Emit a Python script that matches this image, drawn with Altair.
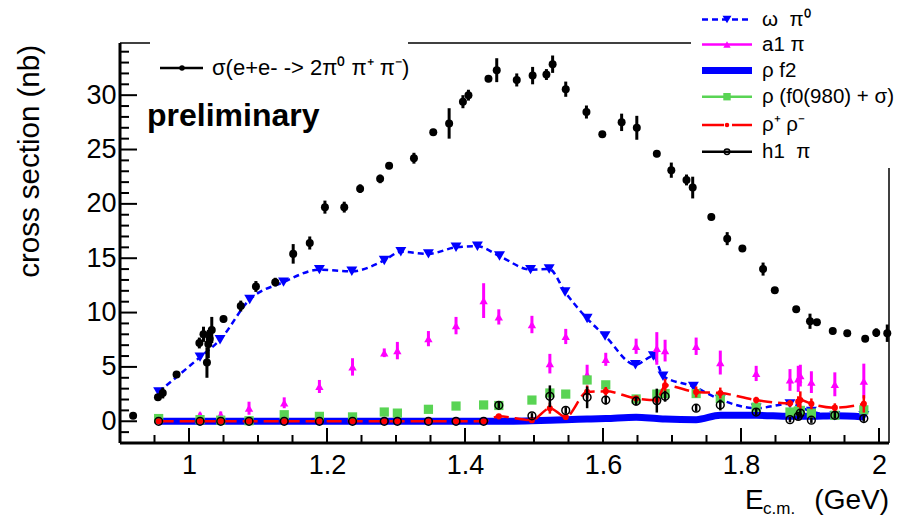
import altair as alt
import pandas as pd

FONT = "Liberation Sans"

# ---------------- data ----------------
# total cross section e+e- -> 2pi0 pi+ pi-
E_tot = [0.919, 0.955, 0.962, 0.982, 1.015, 1.021, 1.026, 1.028, 1.030, 1.033,
         1.050, 1.075, 1.097, 1.125, 1.151, 1.175, 1.197, 1.225, 1.248, 1.277,
         1.290, 1.326, 1.354, 1.377, 1.397, 1.405, 1.434, 1.446, 1.475, 1.498,
         1.518, 1.527, 1.546, 1.576, 1.599, 1.627, 1.649, 1.678, 1.699, 1.721,
         1.730, 1.757, 1.780, 1.802, 1.832, 1.849, 1.880, 1.900, 1.910, 1.933,
         1.954, 1.980, 1.996, 2.012]
xs_tot = [0.5, 2.2, 2.6, 4.3, 7.2, 8.0, 5.4, 7.1, 7.6, 8.4,
          9.4, 10.6, 12.4, 12.8, 15.4, 16.4, 19.7, 19.7, 21.4, 22.3,
          23.5, 24.2, 26.6, 27.4, 29.4, 30.0, 31.5, 32.3, 31.4, 31.8,
          31.9, 32.85, 30.55, 28.45, 26.4, 27.5, 27.0, 24.6, 23.1, 22.2,
          21.5, 18.8, 16.8, 15.9, 14.0, 12.05, 10.3, 9.2, 9.1, 8.3,
          8.1, 7.6, 8.15, 8.1]
err_tot = [0.2, 0.3, 0.5, 0.3, 0.5, 0.7, 1.4, 1.3, 0.6, 1.2,
           0.3, 0.5, 0.5, 0.4, 0.9, 0.6, 0.6, 0.5, 0.4, 0.4,
           0.3, 0.5, 0.3, 1.4, 0.6, 0.5, 0.3, 1.1, 0.6, 0.8,
           0.5, 0.8, 0.7, 0.6, 0.3, 0.8, 1.1, 0.3, 0.7, 0.5,
           1.0, 0.3, 0.6, 0.3, 0.6, 0.3, 0.3, 0.7, 0.3, 0.3,
           0.3, 0.3, 0.4, 0.8]

# omega pi0 component
E_omega = [0.956, 1.016, 1.045, 1.088, 1.137, 1.189, 1.236, 1.283, 1.307, 1.347,
           1.387, 1.418, 1.450, 1.495, 1.522, 1.545, 1.577, 1.603, 1.647, 1.673,
           1.687, 1.731, 1.770, 1.822, 1.871, 1.902, 1.936, 1.978]
xs_omega = [2.7, 5.9, 7.5, 11.2, 12.8, 13.95, 13.8, 14.8, 15.6, 15.4,
            16.0, 16.1, 15.2, 13.95, 14.0, 11.9, 9.45, 7.85, 5.2, 6.0,
            4.15, 3.2, 2.0, 1.2, 1.6, 0.9, 0.5, 0.5]

# energy points of the other components
E_comp = [0.956, 1.016, 1.046, 1.087, 1.138, 1.189, 1.237, 1.283, 1.302, 1.347,
          1.387, 1.427, 1.449, 1.497, 1.523, 1.546, 1.577, 1.604, 1.648, 1.678,
          1.690, 1.735, 1.770, 1.822, 1.871, 1.883, 1.886, 1.902, 1.936, 1.978]
xs_a1 = [0.1, 0.6, 0.6, 1.2, 1.7, 3.2, 5.0, 6.3, 6.5, 7.6,
         8.8, 11.1, 9.6, 8.9, 5.3, 7.8, 4.3, 5.7, 6.9, 6.7,
         6.5, 6.9, 5.4, 4.4, 3.8, 3.9, 4.2, 3.6, 3.4, 3.7]
err_a1 = [0.1, 0.2, 0.3, 0.6, 0.5, 0.6, 0.8, 0.4, 0.8, 0.7,
          0.8, 1.6, 0.7, 0.8, 0.9, 0.7, 0.9, 0.6, 0.7, 1.5,
          1.0, 0.8, 1.1, 0.7, 1.0, 1.2, 1.0, 1.0, 1.1, 1.6]
xs_rhof2 = [0, 0, 0, 0, 0, 0, 0, 0, 0, 0,
            0, 0, 0, 0.05, 0.1, 0.15, 0.2, 0.25, 0.38, 0.25,
            0.2, 0.15, 0.55, 0.55, 0.45, 0.45, 0.45, 0.45, 0.5, 0.4]
xs_rhof0 = [0.25, 0.15, 0.1, 0.05, 0.6, 0.45, 0.4, 0.85, 0.75, 1.1,
            1.4, 1.5, 1.45, 1.95, 2.6, 2.5, 3.8, 3.35, 2.05, 2.5,
            2.55, 2.55, 2.1, 1.3, 0.85, 0.95, 1.0, 0.75, 0.55, 1.05]
xs_rhorho = [0, 0, 0, 0, 0, 0, 0, 0, 0, 0,
             0, 0, 0.45, 0.1, 1.2, 0.4, 2.7, 2.75, 2.1, 1.95,
             3.3, 2.7, 2.6, 1.95, 1.65, 1.8, 1.95, 1.6, 1.25, 1.6]
err_rhorho = [0, 0, 0, 0, 0, 0, 0, 0, 0, 0,
              0, 0, 0, 0.1, 0.5, 0.1, 0.6, 0.4, 0.2, 0.2,
              0.6, 0.5, 0.5, 0.3, 0.3, 0.5, 0.8, 0.5, 0.4, 0.8]
xs_h1 = [0, 0, 0, 0, 0, 0, 0, 0, 0, 0,
         0, 0, 1.47, 0.5, 2.3, 1.0, 2.2, 1.95, 1.85, 1.9,
         2.3, 1.2, 1.5, 0.85, 0.15, 0.45, 0.75, 0.1, 0.55, 0.25]
err_h1 = [0, 0, 0, 0, 0, 0, 0, 0, 0, 0,
          0, 0, 0.3, 0.25, 1.0, 0.3, 1.0, 0.4, 0.4, 1.1,
          0.5, 0.3, 0.5, 0.3, 0.25, 0.3, 0.3, 0.25, 0.3, 0.3]

# axis ticks
x_major = [1.0, 1.2, 1.4, 1.6, 1.8, 2.0]
x_minor = [0.9, 0.95, 1.05, 1.1, 1.15, 1.25, 1.3, 1.35, 1.45, 1.5, 1.55,
           1.65, 1.7, 1.75, 1.85, 1.9, 1.95]
y_major = [0, 5, 10, 15, 20, 25, 30]
y_minor = [-1, 1, 2, 3, 4, 6, 7, 8, 9, 11, 12, 13, 14, 16, 17, 18, 19, 21, 22, 23, 24,
           26, 27, 28, 29, 31, 32, 33, 34]

# ---------------- tables ----------------
tot = pd.DataFrame({"E": E_tot, "s": xs_tot, "e": err_tot})
tot["lo"] = tot["s"] - tot["e"]
tot["hi"] = tot["s"] + tot["e"]
omega = pd.DataFrame({"E": E_omega, "s": xs_omega})
comp = pd.DataFrame({"E": E_comp, "a1": xs_a1, "ea1": err_a1, "f2": xs_rhof2,
                     "f0": xs_rhof0, "rr": xs_rhorho, "err": err_rhorho,
                     "h1": xs_h1, "eh1": err_h1})
comp["a1lo"] = comp["a1"] - comp["ea1"]
comp["a1hi"] = comp["a1"] + comp["ea1"]
comp["rrlo"] = comp["rr"] - comp["err"]
comp["rrhi"] = comp["rr"] + comp["err"]
comp["h1lo"] = comp["h1"] - comp["eh1"]
comp["h1hi"] = comp["h1"] + comp["eh1"]
rr_err = comp[comp["err"] > 0]
h1_err = comp[comp["eh1"] > 0]

one = pd.DataFrame({"k": [0]})

W, H = 769, 400
xsc = alt.Scale(domain=[0.9, 2.0145], nice=False, zero=False)
ysc = alt.Scale(domain=[-2, 34.8], nice=False, zero=False)
xaxis = alt.Axis(values=x_major, format="~g", domain=False, ticks=False, grid=False,
                 labelFont=FONT, labelFontSize=27, labelColor="black", labelPadding=9,
                 labelFlush=False, labelOverlap=False, title=None)
yaxis = alt.Axis(values=y_major, format="d", domain=False, ticks=False, grid=False,
                 labelFont=FONT, labelFontSize=27, labelColor="black", labelPadding=4,
                 labelFlush=False, labelOverlap=False, title=None)


def X(f):
    return alt.X(f"{f}:Q", scale=xsc, axis=xaxis)


def Y(f):
    return alt.Y(f"{f}:Q", scale=ysc, axis=yaxis)


BLUE = "#0000ff"
MAG = "#ff00ff"
GREEN = "#59d454"
RED = "#ff0000"

layers = []

# frame
layers.append(alt.Chart(one).mark_rule(color="black", strokeWidth=1.5).encode(
    x=alt.value(0), x2=alt.value(W), y=alt.value(0)))
layers.append(alt.Chart(one).mark_rule(color="black", strokeWidth=1.5).encode(
    x=alt.value(W), y=alt.value(0), y2=alt.value(H)))
layers.append(alt.Chart(one).mark_rule(color="black", strokeWidth=3).encode(
    x=alt.value(0), y=alt.value(0), y2=alt.value(H)))
layers.append(alt.Chart(one).mark_rule(color="black", strokeWidth=3).encode(
    x=alt.value(0), x2=alt.value(W), y=alt.value(H)))

# ticks (inside the frame)
layers.append(alt.Chart(pd.DataFrame({"v": y_minor})).mark_rule(color="black", strokeWidth=2).encode(
    y=Y("v"), x=alt.value(0), x2=alt.value(9)))
layers.append(alt.Chart(pd.DataFrame({"v": y_major})).mark_rule(color="black", strokeWidth=2).encode(
    y=Y("v"), x=alt.value(0), x2=alt.value(17)))
layers.append(alt.Chart(pd.DataFrame({"v": x_minor})).mark_rule(color="black", strokeWidth=2).encode(
    x=X("v"), y=alt.value(H), y2=alt.value(H - 8)))
layers.append(alt.Chart(pd.DataFrame({"v": x_major})).mark_rule(color="black", strokeWidth=2).encode(
    x=X("v"), y=alt.value(H), y2=alt.value(H - 15)))

# omega pi0
layers.append(alt.Chart(omega).mark_line(color=BLUE, strokeWidth=2.5, strokeDash=[6, 4],
                                         interpolate="monotone").encode(x=X("E"), y=Y("s")))
layers.append(alt.Chart(omega).mark_point(shape="triangle-down", filled=True, color=BLUE,
                                          size=120, opacity=1).encode(x=X("E"), y=Y("s")))
# a1 pi
layers.append(alt.Chart(comp).mark_rule(color=MAG, strokeWidth=3).encode(
    x=X("E"), y=Y("a1lo"), y2=alt.Y2("a1hi:Q")))
layers.append(alt.Chart(comp).mark_point(shape="triangle-up", filled=True, color=MAG,
                                         size=70, opacity=1).encode(x=X("E"), y=Y("a1")))
# rho f2
layers.append(alt.Chart(comp).mark_line(color=BLUE, strokeWidth=7, interpolate="monotone").encode(
    x=X("E"), y=Y("f2")))
# rho (f0 + sigma)
layers.append(alt.Chart(comp).mark_point(shape="square", filled=True, color=GREEN,
                                         size=85, opacity=1).encode(x=X("E"), y=Y("f0")))
# rho+ rho-
layers.append(alt.Chart(comp).mark_line(color=RED, strokeWidth=2.5, strokeDash=[15, 6],
                                        interpolate="monotone").encode(x=X("E"), y=Y("rr")))
layers.append(alt.Chart(rr_err).mark_rule(color=RED, strokeWidth=2.5).encode(
    x=X("E"), y=Y("rrlo"), y2=alt.Y2("rrhi:Q")))
layers.append(alt.Chart(comp).mark_point(shape="circle", filled=True, color=RED,
                                         size=38, opacity=1).encode(x=X("E"), y=Y("rr")))
# h1 pi
layers.append(alt.Chart(h1_err).mark_rule(color="black", strokeWidth=2.5).encode(
    x=X("E"), y=Y("h1lo"), y2=alt.Y2("h1hi:Q")))
layers.append(alt.Chart(comp).mark_point(shape="circle", filled=False, color="black",
                                         strokeWidth=1.5, size=60, opacity=1).encode(
    x=X("E"), y=Y("h1")))
# total
layers.append(alt.Chart(tot).mark_rule(color="black", strokeWidth=3).encode(
    x=X("E"), y=Y("lo"), y2=alt.Y2("hi:Q")))
layers.append(alt.Chart(tot).mark_point(shape="circle", filled=True, color="black",
                                        size=64, opacity=1).encode(x=X("E"), y=Y("s")))

# legend boxes (white, as in ROOT they hide the frame)
layers.append(alt.Chart(one).mark_rect(color="white").encode(
    x=alt.value(571), x2=alt.value(790), y=alt.value(-43), y2=alt.value(125)))
layers.append(alt.Chart(one).mark_rect(color="white").encode(
    x=alt.value(30), x2=alt.value(288), y=alt.value(-5), y2=alt.value(50)))


def leg_line(x1, x2, y, color, width, dash=None):
    kw = dict(color=color, strokeWidth=width)
    if dash is not None:
        kw["strokeDash"] = dash
    return alt.Chart(one).mark_rule(**kw).encode(x=alt.value(x1), x2=alt.value(x2), y=alt.value(y))


def leg_point(x, y, shape, color, size, filled=True):
    return alt.Chart(one).mark_point(shape=shape, filled=filled, color=color, size=size,
                                     opacity=1, strokeWidth=1.5).encode(
        x=alt.value(x), y=alt.value(y))


def txt(s, x, y, size=20.5, align="left", baseline="middle", weight="normal", angle=0):
    kw = dict(text=s, font=FONT, fontSize=size, align=align, baseline=baseline,
              fontWeight=weight, color="black")
    if angle:
        kw["angle"] = angle
    return alt.Chart(one).mark_text(**kw).encode(x=alt.value(x), y=alt.value(y))


# right-hand legend (plot origin is at page x=120, y=43)
LX1, LX2, LXM, LXT = 582, 632, 607, 642
ly = [-23.5, 1.5, 27.5, 53.7, 82, 108.7]
layers += [
    leg_line(LX1, LX2, ly[0], BLUE, 2.5, [6, 4]),
    leg_point(LXM, ly[0], "triangle-down", BLUE, 80),
    txt("ω\u00a0\u00a0π⁰", LXT, ly[0]),
    leg_line(LX1, LX2, ly[1], MAG, 2.5),
    leg_point(LXM, ly[1], "triangle-up", MAG, 55),
    txt("a1\u00a0π", LXT, ly[1]),
    leg_line(LX1, LX2, ly[2], BLUE, 7),
    txt("ρ\u00a0f2", LXT, ly[2]),
    leg_line(LX1, LX2, ly[3], GREEN, 2.5),
    leg_point(LXM, ly[3], "square", GREEN, 55),
    txt("ρ\u00a0(f0(980)\u00a0+\u00a0σ)", LXT, ly[3]),
    leg_line(LX1, LX2, ly[4], RED, 2.5, [22, 8]),
    leg_point(LXM, ly[4], "circle", RED, 20),
    txt("ρ⁺\u00a0ρ⁻", LXT, ly[4]),
    leg_line(LX1, LX2, ly[5], "black", 2.5),
    leg_point(LXM, ly[5], "circle", "black", 30, filled=False),
    txt("h1\u00a0\u00a0π", LXT, ly[5]),
]
# in-frame legend
layers += [
    leg_line(40, 83, 25, "black", 2.5),
    leg_point(62, 25, "circle", "black", 30),
    txt("σ(e+e-\u00a0->\u00a02π⁰\u00a0π⁺\u00a0π⁻)", 92, 25, size=22),
    txt("preliminary", 27, 83, size=32, baseline="alphabetic", weight="bold"),
]
# axis titles
layers += [
    txt("cross section (nb)", -90, 2, size=29.5, align="right", angle=270),
    txt("(GeV)", 769, 466, size=28, align="right", baseline="alphabetic"),
    txt("E", 625, 466, size=28, baseline="alphabetic"),
    txt("c.m.", 643, 471, size=17, baseline="alphabetic"),
]

chart = alt.layer(*layers).properties(
    width=W, height=H,
    padding={"left": 112, "top": 35, "right": 7, "bottom": 77},
    autosize=alt.AutoSizeParams(type="none"),
    background="white",
).configure_view(stroke=None)

chart.save("out.html", embed_options={"renderer": "svg", "actions": False})
